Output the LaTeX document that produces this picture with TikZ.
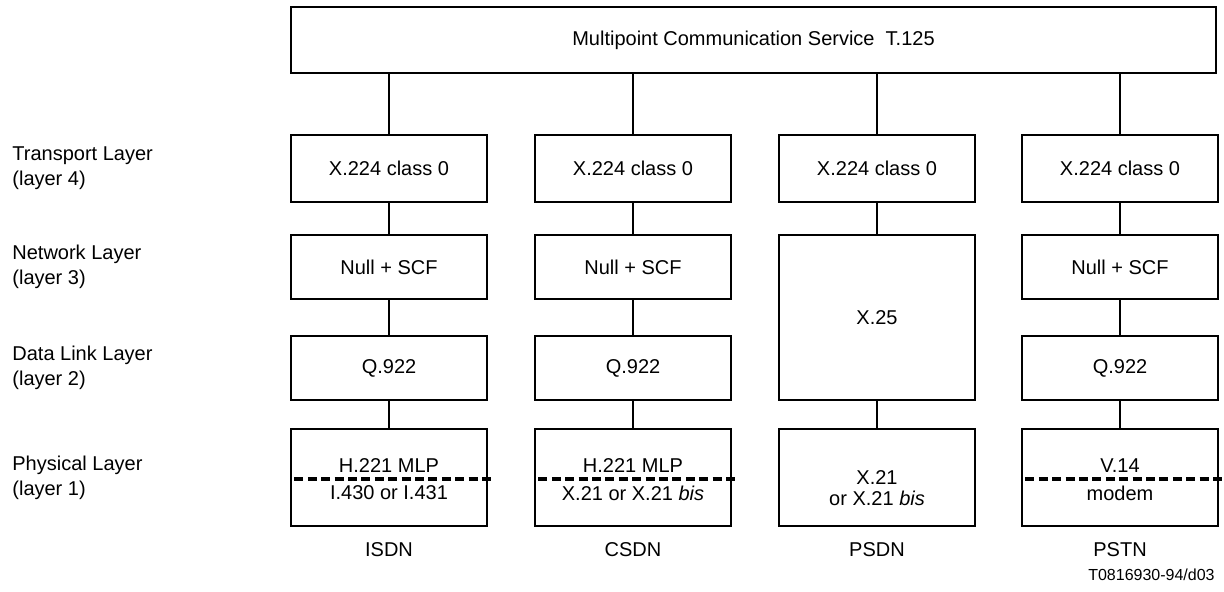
\documentclass[tikz,border=0pt]{standalone}
\usepackage{fontspec}
\setmainfont{Liberation Sans}
\usetikzlibrary{positioning}

\begin{document}
\begin{tikzpicture}[
		x=0.5pt,y=-0.5pt,
		box/.style={
			draw,
			line width=0.6pt,
			inner sep=0pt,
			minimum width=98pt,
			align=center
		},
		link/.style={
			line width=0.8pt
		},
		split/.style={
			line width=1.8pt,
			dash pattern=on 4.5pt off 2.2pt
		},
		lbl/.style={
			anchor=west,
			align=left,
			inner sep=0pt
		},
		font=\fontsize{10}{12.5}\selectfont
		]
		\useasboundingbox (0,0) rectangle (1224,591);
		\node[box, minimum width=462.5pt, minimum height=33pt] (mcs) at (753.5,40) {Multipoint Communication Service\ \ T.125};
		\foreach \y/\txt [count=\li] in {168.5/{Transport Layer\\(layer 4)},267/{Network Layer\\(layer 3)},368/{Data Link Layer\\(layer 2)},477.5/{Physical Layer\\(layer 1)}}
		\node[lbl] (layer-\li) at (12,\y) {\txt};
		\foreach \cx/\nm [count=\ci] in {389/ISDN,633/CSDN,877/PSDN,1120/PSTN}
		{
			\node[box, minimum height=33.5pt] (tp-\ci) at (\cx,168.5) {X.224 class 0};
			\node[box, minimum height=48.5pt] (ph-\ci) at (\cx,477.5) {};
			\node (net-\ci) at (\cx,550) {\nm};
			\draw[link] (mcs.south -| tp-\ci) -- (tp-\ci);
		}
		\foreach \ci/\cx in {1/389,2/633,4/1120}
		{
			\node[box, minimum height=32pt] (nw-\ci) at (\cx,267) {Null + SCF};
			\node[box, minimum height=32pt] (dl-\ci) at (\cx,368) {Q.922};
			\draw[link] (tp-\ci) -- (nw-\ci);
			\draw[link] (nw-\ci) -- (dl-\ci);
			\draw[link] (dl-\ci) -- (ph-\ci);
			\draw[split] ([xshift=2pt,yshift=-0.75pt]ph-\ci.west) -- ([xshift=1.5pt,yshift=-0.75pt]ph-\ci.east);
		}
		\node[box, minimum height=82.5pt] (x25) at (877,317.5) {X.25};
		\draw[link] (tp-3) -- (x25);
		\draw[link] (x25) -- (ph-3);
		\foreach \ci/\cx/\up/\lo in {1/389/{H.221 MLP}/{I.430 or I.431},2/633/{H.221 MLP}/{X.21 or X.21 \textit{bis}},4/1120/{V.14}/{modem}}
		{
			\node (ph-\ci-up) at (\cx,466) {\up};
			\node (ph-\ci-lo) at (\cx,493) {\lo};
		}
		\node[align=center, font=\fontsize{10}{10.5}\selectfont] (ph-3-txt) at (877,488) {X.21\\or X.21 \textit{bis}};
		\node[anchor=east, inner sep=0pt, font=\fontsize{8}{10}\selectfont] (code) at (1215,575) {T0816930-94/d03};
\end{tikzpicture}
\end{document}
